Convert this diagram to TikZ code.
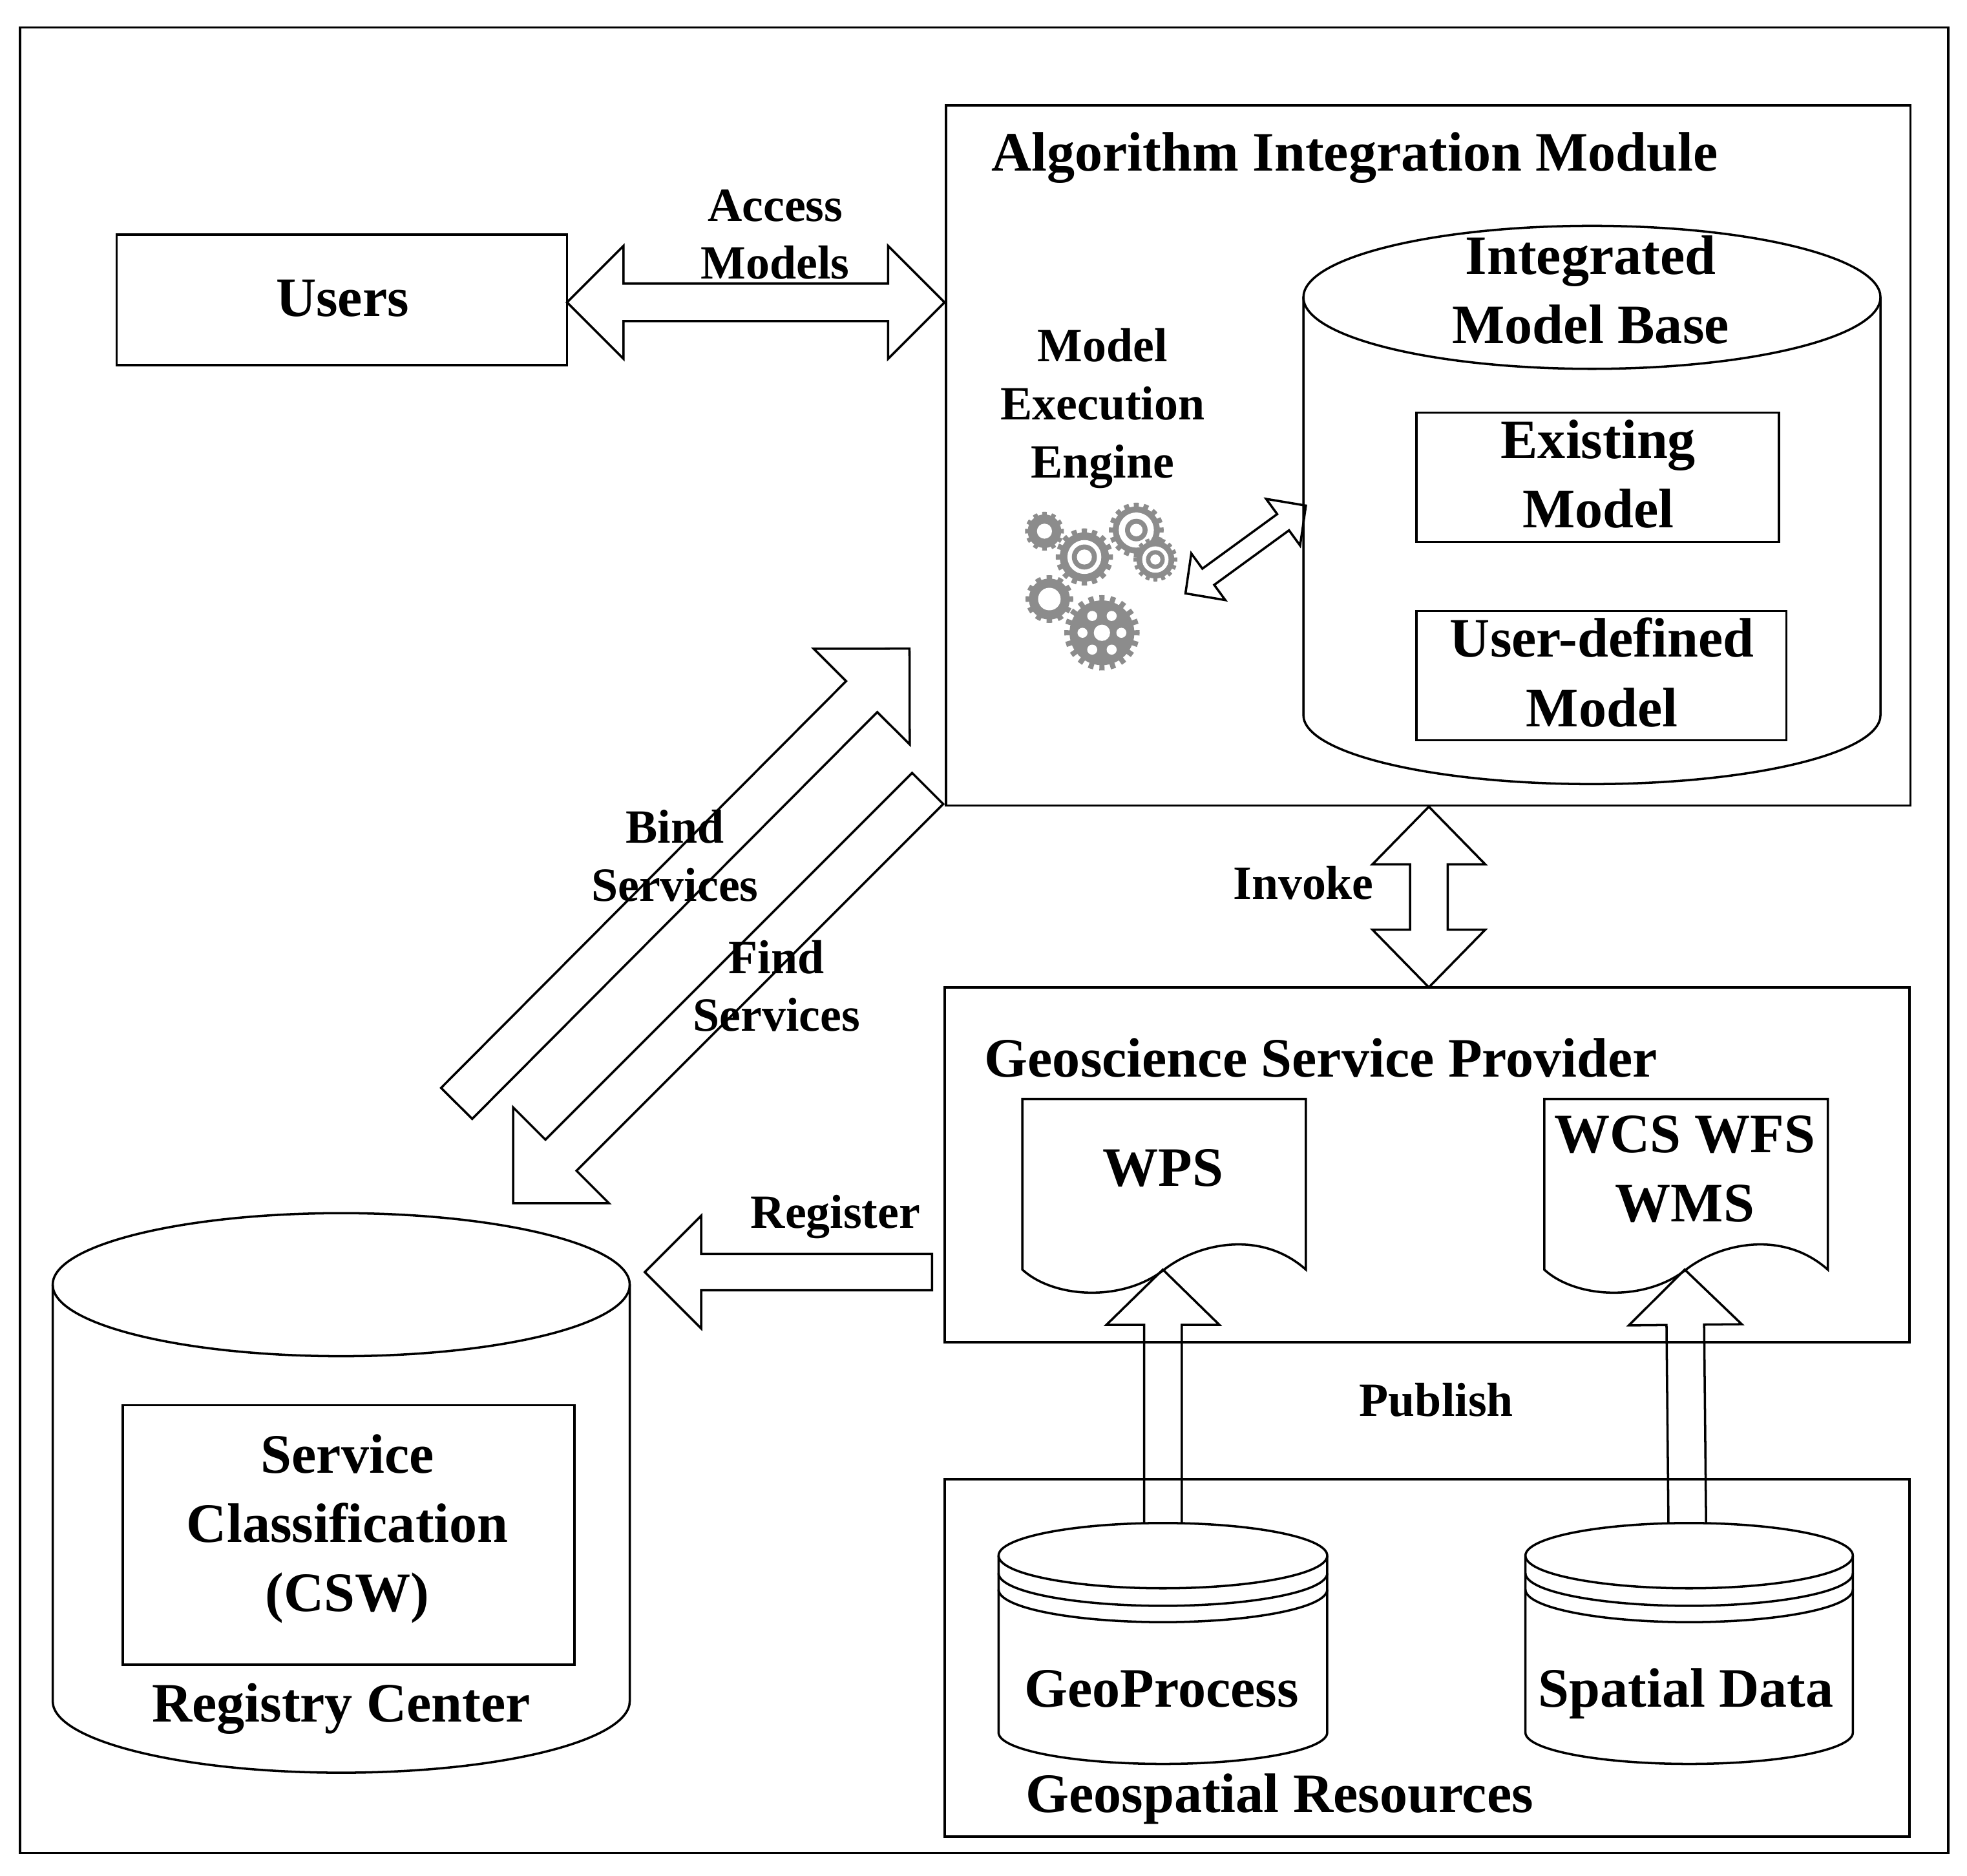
\documentclass[tikz,border=0pt]{standalone}
\usepackage{fontspec}
\setmainfont{Liberation Serif}
\usetikzlibrary{calc}
\def\uu{0.019413cm}
\tikzset{
  line/.style={draw=black,line width=1pt,line join=miter},
  boxed/.style={line,inner sep=0pt,outer sep=0pt,anchor=north west},
  big/.style={font=\bfseries\fontsize{24.5}{30.5}\selectfont,align=center,inner sep=0pt},
  small/.style={font=\bfseries\fontsize{21}{25.5}\selectfont,align=center,inner sep=0pt},
  gearcol/.style={fill=black!45}
}
% single block arrow: tail, tip, head length, head half width, shaft half width, closing
\newcommand\singlearrow[6]{%
  \draw[line] ($(#1)!#5*\uu!90:(#2)$)
    -- ($(#2)!#3*\uu!(#1)!#5*\uu!-90:(#1)$)
    -- ($(#2)!#3*\uu!(#1)!#4*\uu!-90:(#1)$)
    -- (#2)
    -- ($(#2)!#3*\uu!(#1)!#4*\uu!90:(#1)$)
    -- ($(#2)!#3*\uu!(#1)!#5*\uu!90:(#1)$)
    -- ($(#1)!#5*\uu!-90:(#2)$) #6;}
% double block arrow: tip, tip, head length, head half width, shaft half width
\newcommand\doublearrow[5]{%
  \draw[line] (#1)
    -- ($(#1)!#3*\uu!(#2)!#4*\uu!90:(#2)$)
    -- ($(#1)!#3*\uu!(#2)!#5*\uu!90:(#2)$)
    -- ($(#2)!#3*\uu!(#1)!#5*\uu!-90:(#1)$)
    -- ($(#2)!#3*\uu!(#1)!#4*\uu!-90:(#1)$)
    -- (#2)
    -- ($(#2)!#3*\uu!(#1)!#4*\uu!90:(#1)$)
    -- ($(#2)!#3*\uu!(#1)!#5*\uu!90:(#1)$)
    -- ($(#1)!#3*\uu!(#2)!#5*\uu!-90:(#2)$)
    -- ($(#1)!#3*\uu!(#2)!#4*\uu!-90:(#2)$)
    -- cycle;}
% cylinder: left x, right x, top-ellipse centre y, ry, bottom-curve start y, bottom ry
\newcommand\dbcyl[6]{%
  \draw[line] ({(#1+#2)/2},#3) ellipse [x radius={(#2-#1)/2},y radius=#4];
  \draw[line] (#1,#3) -- (#1,#5) arc[start angle=180,end angle=0,x radius={(#2-#1)/2},y radius=#6] -- (#2,#3);}
\newcommand\dbring[4]{%
  \draw[line] (#1,#3) arc[start angle=180,end angle=0,x radius={(#2-#1)/2},y radius=#4];}
\newcommand\docshape[3]{%
  \draw[line] (#1,#2+136)
    .. controls (#1+25,#2+159) and (#1+80,#2+162) .. (#1+113,#2+136)
    .. controls (#1+140,#2+115) and (#1+190,#2+104) .. (#1+#3,#2+136)
    -- (#1+#3,#2) -- (#1,#2) -- cycle;}
\newcommand\gearbody[4]{%
  \fill[gearcol] plot[domain=0:360,samples=721,smooth=false]
    ({#1+#3*gearr(\x,#4)*cos(\x)},{#2+#3*gearr(\x,#4)*sin(\x)}) -- cycle;}
\newcommand\gearhole[3]{\fill[white] (#1,#2) circle[radius=#3];}
\newcommand\gearring[3]{\fill[gearcol] (#1,#2) circle[radius=#3];}
\begin{document}
\begin{tikzpicture}[x=\uu,y=-\uu,
  declare function={gearr(\t,\n)=(cos(\n*\t)>0 ? 1 : 0.86);}]
\useasboundingbox (0,0) rectangle (1568,1495);
\fill[white] (0,0) rectangle (1568,1495);
% outer frame
\draw[line] (16,22) rectangle (1553,1477);
% boxes
\node[boxed,minimum width=359*\uu,minimum height=104*\uu] (users) at (93,187) {};
\node[boxed,minimum width=769*\uu,minimum height=558*\uu] (aim) at (754,84) {};
\node[boxed,minimum width=769*\uu,minimum height=283*\uu] (gsp) at (753,787) {};
\node[boxed,minimum width=769*\uu,minimum height=285*\uu] (geo) at (753,1179) {};
% integrated model base
\dbcyl{1039}{1499}{237}{57}{570}{55}
\node[boxed,minimum width=289*\uu,minimum height=103*\uu] (exist) at (1129,329) {};
\node[boxed,minimum width=295*\uu,minimum height=103*\uu] (userdef) at (1129,487) {};
% registry
\dbcyl{42}{502}{1024}{57}{1356}{57}
\node[boxed,minimum width=360*\uu,minimum height=207*\uu] (csw) at (98,1120) {};
% documents
\docshape{815}{876}{226}
\docshape{1231}{876}{226}
% small cylinders
\dbcyl{796}{1058}{1240}{26}{1381}{25}
\dbring{796}{1058}{1254}{26}
\dbring{796}{1058}{1267}{26}
\dbcyl{1216}{1477}{1240}{26}{1381}{25}
\dbring{1216}{1477}{1254}{26}
\dbring{1216}{1477}{1267}{26}
% gears
\gearbody{832.6}{423.4}{15.5}{12}
\gearhole{832.6}{423.4}{6}
\gearbody{864.4}{444}{22.8}{16}
\gearhole{864.4}{444}{13.5}
\gearring{864.4}{444}{10}
\gearhole{864.4}{444}{6}
\gearbody{905.8}{422.5}{21.8}{16}
\gearhole{905.8}{422.5}{14}
\gearring{905.8}{422.5}{9}
\gearhole{905.8}{422.5}{5}
\gearbody{921}{446}{17.5}{16}
\gearhole{921}{446}{10.5}
\gearring{921}{446}{7.5}
\gearhole{921}{446}{4}
\gearbody{836.5}{477.5}{19}{12}
\gearhole{836.5}{477.5}{9}
\gearbody{878.4}{504.4}{30}{20}
\gearhole{878.4}{504.4}{6.5}
\foreach \a in {0,60,120,180,240,300}{\fill[white] ($(878.4,504.4)+(\a:15.5)$) circle[radius=4];}
% connector ends
\coordinate (usersE) at (452,241);
\coordinate (aimW) at (753,241);
\coordinate (aimS) at (1139,643);
\coordinate (gspN) at (1139,787);
\coordinate (regTail) at (743,1014);
\coordinate (regTip) at (514,1014);
\coordinate (bindTail) at (364,879.5);
\coordinate (bindTip) at (725,517);
\coordinate (findTail) at (739.5,628.5);
\coordinate (findTip) at (409,959);
\coordinate (engTip) at (945,473);
\coordinate (baseTip) at (1041,403);
\coordinate (wpsTip) at (927,1012);
\coordinate (wpsTail) at (927,1214);
\coordinate (wxsTip) at (1343,1012);
\coordinate (wxsTail) at (1345,1214);
% block arrows
\doublearrow{usersE}{aimW}{45}{45}{15}
\doublearrow{aimS}{gspN}{46}{45}{15}
\singlearrow{regTail}{regTip}{45}{45}{14.5}{-- cycle}
\singlearrow{bindTail}{bindTip}{54}{54}{17.5}{-- cycle}
\singlearrow{findTail}{findTip}{54}{54}{17.5}{-- cycle}
\doublearrow{engTip}{baseTip}{22.5}{23}{8}
\singlearrow{wpsTail}{wpsTip}{44}{45}{15}{}
\singlearrow{wxsTail}{wxsTip}{44}{45}{15}{}
% labels
\node[big] (tusers) at (273,238) {Users};
\node[big] (taim) at (1080,126) {Algorithm Integration Module};
\node[small] (tengine) at (879,325.5) {Model\\Execution\\Engine};
\node[big] (tbase) at (1268,231) {Integrated\\Model Base};
\node[big] (texist) at (1274,378) {Existing\\Model};
\node[big] (tuser) at (1277,536) {User-defined\\Model};
\node[small] (taccess) at (618,187) {Access\\Models};
\node[small] (tbind) at (538,682) {Bind\\Services};
\node[small] (tfind) at (619,786) {Find\\Services};
\node[small] (tinvoke) at (1039,704) {Invoke};
\node[small] (tregister) at (666,970) {Register};
\node[big] (tgsp) at (1053,843) {Geoscience Service Provider};
\node[big] (twps) at (927,931) {WPS};
\node[big] (twxs) at (1343,932) {WCS WFS\\WMS};
\node[small] (tpublish) at (1145,1116) {Publish};
\node[big] (tgp) at (926,1346) {GeoProcess};
\node[big] (tsd) at (1344,1350) {Spatial Data};
\node[big] (tgr) at (1020,1434) {Geospatial Resources};
\node[big] (tcsw) at (277,1218.5) {Service\\Classification\\(CSW)};
\node[big] (trc) at (272,1362) {Registry Center};
\end{tikzpicture}
\end{document}
